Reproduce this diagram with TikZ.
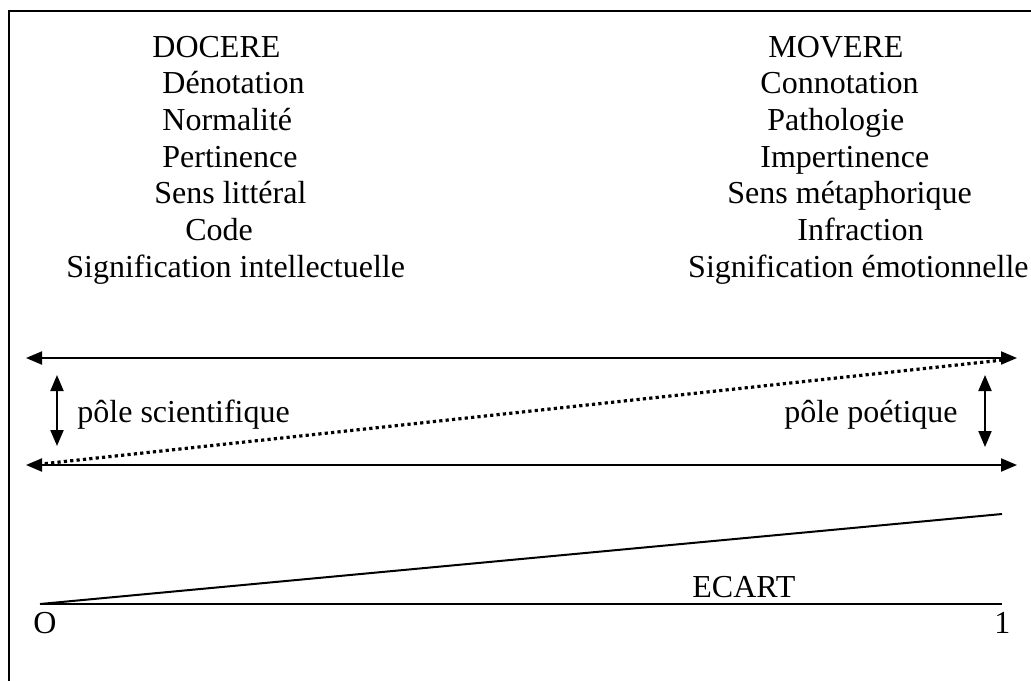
\documentclass[tikz,border=0pt]{standalone}
\usepackage{fontspec}
\setmainfont{Liberation Serif}
\usetikzlibrary{calc}
\usetikzlibrary{arrows.meta}

\begin{document}
\begin{tikzpicture}[
  x=0.5pt, y=-0.5pt,
  font=\fontsize{16}{19}\selectfont,
  >={Triangle[length=8pt,width=6.5pt]},
  word/.style={anchor=base west, inner sep=0pt},
  rword/.style={anchor=base east, inner sep=0pt},
  rule/.style={line width=1pt},
  span/.style={<->, line width=1pt},
  dots/.style={line width=1.6pt, dash pattern=on 1.6pt off 1.6pt}
]
\useasboundingbox (0,0) rectangle (1031,680);

% ------------------------------------------------------------
% Frame (runs off the page at right and bottom)
% ------------------------------------------------------------
\draw[rule] (9,700) -- (9,11) -- (1050,11);

% ------------------------------------------------------------
% Left column: docere
% ------------------------------------------------------------
\node[word] (docere) at (152,57)  {DOCERE};
\node[word] (denot)  at (162,93)  {Dénotation};
\node[word] (norm)   at (162,130) {Normalité};
\node[word] (pert)   at (162,167) {Pertinence};
\node[word] (litt)   at (154,203) {Sens littéral};
\node[word] (code)   at (185,240) {Code};
\node[word] (intel)  at (66,277)  {Signification intellectuelle};

% ------------------------------------------------------------
% Right column: movere
% ------------------------------------------------------------
\node[word] (movere) at (768,57)  {MOVERE};
\node[word] (connot) at (760,93)  {Connotation};
\node[word] (patho)  at (767,130) {Pathologie};
\node[word] (impert) at (760,167) {Impertinence};
\node[word] (meta)   at (727,203) {Sens métaphorique};
\node[word] (infr)   at (797,240) {Infraction};
\node[rword] (emot)  at (1029,277) {Signification émotionnelle};

% ------------------------------------------------------------
% Poles
% ------------------------------------------------------------
\coordinate (topL) at (26,358);
\coordinate (topR) at (1017,358);
\coordinate (botL) at (26,465);
\coordinate (botR) at (1017,465);

\draw[span] (topL) -- (topR);
\draw[span] (botL) -- (botR);
\draw[dots] ($(botL)+(6,0)$) -- ($(topR)+(-14,2)$);

\coordinate (sciA) at (57,375);
\coordinate (sciB) at (57,446);
\coordinate (poeA) at (985,375);
\coordinate (poeB) at (985,447);
\draw[span] (sciA) -- (sciB);
\draw[span] (poeA) -- (poeB);

\node[word] (sci)  at (77,422)  {pôle scientifique};
\node[rword] (poe) at (958,422) {pôle poétique};

% ------------------------------------------------------------
% Ecart
% ------------------------------------------------------------
\coordinate (orig) at (40,604);
\coordinate (endH) at (1002,604);
\coordinate (endS) at (1002,514);
\draw[rule] (orig) -- (endH);
\draw[rule] (orig) -- (endS);

\node[word] (ecart) at (692,597) {ECART};
\node[word] (zero)  at (33,633)  {O};
\node[word] (one)   at (994,633) {1};

\end{tikzpicture}
\end{document}
